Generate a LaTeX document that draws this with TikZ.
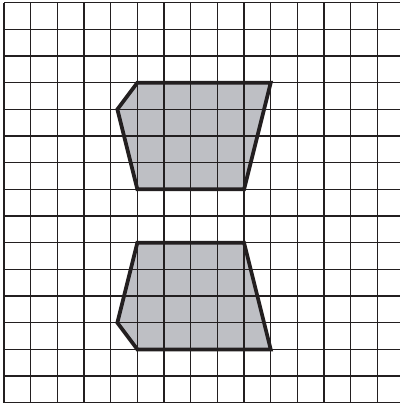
\documentclass[tikz,border=0pt]{standalone}
\definecolor{shapegray}{RGB}{190,191,196}
\definecolor{ink}{RGB}{35,31,32}
\tikzset{gridline/.style={ink, line width=1.4pt},
         outline/.style={ink, line width=4pt, line join=miter}}
\begin{document}
\begin{tikzpicture}
                \useasboundingbox (-0.15,-0.01) rectangle (14.85,15.1);
                \draw[gridline] (0,0) grid (14.85,15);
                \draw[ink, line width=2pt] (0,0) -- (0,15);

                % upper shape
                \coordinate (A) at (5,12);
                \coordinate (B) at (10,12);
                \coordinate (C) at (9,8);
                \coordinate (D) at (5,8);
                \coordinate (E) at (4.25,11);
                \fill[shapegray] (A) -- (B) -- (C) -- (D) -- (E) -- cycle;
                \begin{scope}
                    \clip (A) -- (B) -- (C) -- (D) -- (E) -- cycle;
                    \draw[gridline] (4,8) grid (10,12);
                \end{scope}
                \draw[outline] (A) -- (B) -- (C) -- (D) -- (E) -- cycle;

                % lower shape
                \coordinate (F) at (5,6);
                \coordinate (G) at (9,6);
                \coordinate (H) at (10,2);
                \coordinate (I) at (5,2);
                \coordinate (J) at (4.25,3);
                \fill[shapegray] (F) -- (G) -- (H) -- (I) -- (J) -- cycle;
                \begin{scope}
                    \clip (F) -- (G) -- (H) -- (I) -- (J) -- cycle;
                    \draw[gridline] (4,2) grid (10,6);
                \end{scope}
                \draw[outline] (F) -- (G) -- (H) -- (I) -- (J) -- cycle;
            \end{tikzpicture}
\end{document}
